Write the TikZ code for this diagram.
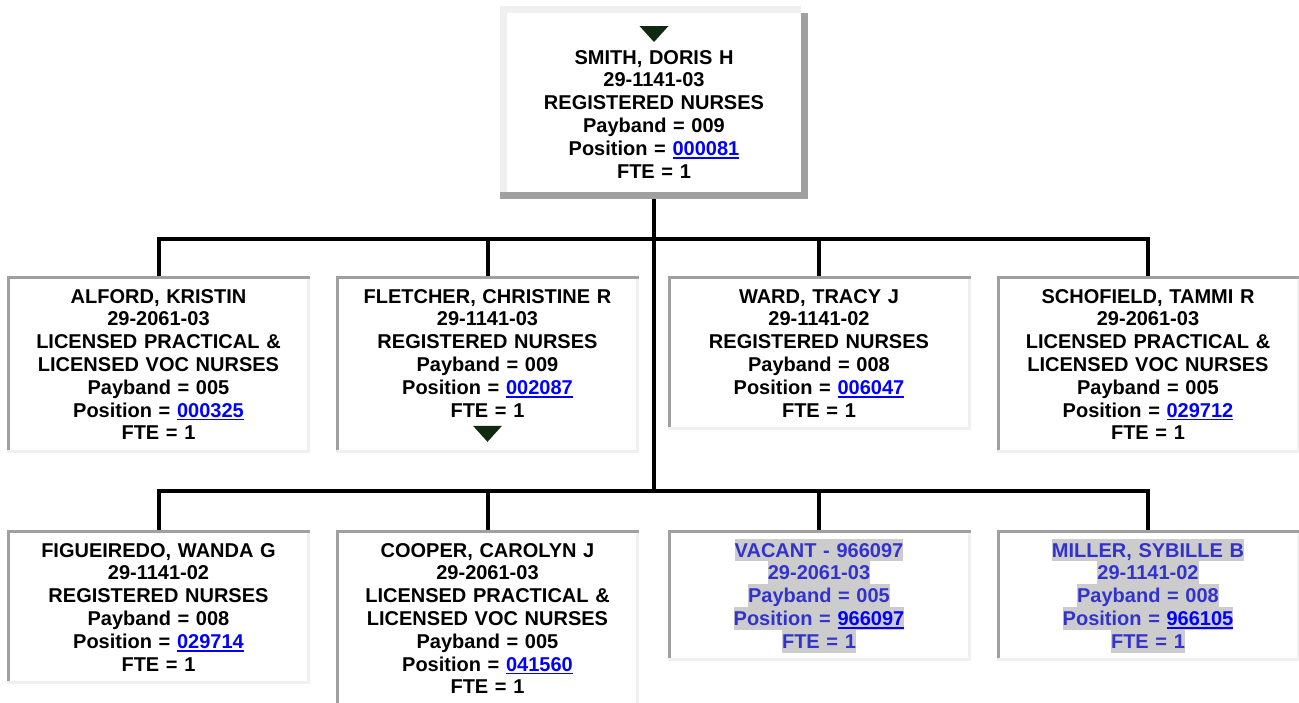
\documentclass[tikz,border=0pt]{standalone}
\usepackage{fontspec}
\setmainfont{Liberation Sans}
\usepackage{xcolor}
\usepackage{tikz}
\usetikzlibrary{calc}

\definecolor{edgedark}{RGB}{160,160,160}
\definecolor{edgelight}{RGB}{240,240,240}
\definecolor{linkblue}{RGB}{0,0,255}
\definecolor{vacblue}{RGB}{51,51,204}
\definecolor{hlgray}{RGB}{204,204,204}
\definecolor{tridark}{RGB}{16,42,16}

\newcommand\orgstrut{\rule[-4.3pt]{0pt}{22.8pt}}
\newcommand\poslink[1]{\textcolor{linkblue}{\setbox0\hbox{#1}\rlap{\rule[-3.4pt]{\wd0}{1.8pt}}\box0}}
\newcommand\vachl[1]{{\setlength\fboxsep{0pt}\colorbox{hlgray}{\orgstrut\textcolor{vacblue}{#1}}}}

\tikzset{
  orgbox/.style={anchor=north,fill=white,outer sep=0pt,inner xsep=9pt,inner ysep=8.5pt,
    text width=285pt,minimum width=303pt,align=center},
  topbox/.style={orgbox,minimum width=308pt,inner xsep=11.5pt,minimum height=193pt},
  conn/.style={line width=4pt,black},
  tri/.style={fill=tridark}
}

\begin{document}
\begin{tikzpicture}[font=\bfseries\fontsize{20}{22.8}\selectfont,x=1pt,y=1pt]
\useasboundingbox (0,0) rectangle (1299,-702);
\clip (0,0) rectangle (1299,-702);
\node[topbox] (smith) at (654,-6) {\orgstrut\\SMITH, DORIS H\\29-1141-03\\REGISTERED NURSES\\Payband = 009\\Position = \poslink{000081}\\FTE = 1\orgstrut};
\node[orgbox] (alford) at (158.5,-276) {\orgstrut ALFORD, KRISTIN\\29-2061-03\\LICENSED PRACTICAL \&\\LICENSED VOC NURSES\\Payband = 005\\Position = \poslink{000325}\\FTE = 1\orgstrut};
\node[orgbox] (fletcher) at (487.5,-276) {\orgstrut FLETCHER, CHRISTINE R\\29-1141-03\\REGISTERED NURSES\\Payband = 009\\Position = \poslink{002087}\\FTE = 1\\\orgstrut};
\node[orgbox] (ward) at (819,-276) {\orgstrut WARD, TRACY J\\29-1141-02\\REGISTERED NURSES\\Payband = 008\\Position = \poslink{006047}\\FTE = 1\orgstrut};
\node[orgbox] (schofield) at (1148,-276) {\orgstrut SCHOFIELD, TAMMI R\\29-2061-03\\LICENSED PRACTICAL \&\\LICENSED VOC NURSES\\Payband = 005\\Position = \poslink{029712}\\FTE = 1\orgstrut};
\node[orgbox] (figueiredo) at (158.5,-530) {\orgstrut FIGUEIREDO, WANDA G\\29-1141-02\\REGISTERED NURSES\\Payband = 008\\Position = \poslink{029714}\\FTE = 1\orgstrut};
\node[orgbox] (cooper) at (487.5,-530) {\orgstrut COOPER, CAROLYN J\\29-2061-03\\LICENSED PRACTICAL \&\\LICENSED VOC NURSES\\Payband = 005\\Position = \poslink{041560}\\FTE = 1\orgstrut};
\node[orgbox] (vacant) at (819,-530) {\vachl{VACANT - 966097}\\\vachl{29-2061-03}\\\vachl{Payband = 005}\\\vachl{Position = \poslink{966097}}\\\vachl{FTE = 1}};
\node[orgbox] (miller) at (1148,-530) {\vachl{MILLER, SYBILLE B}\\\vachl{29-1141-02}\\\vachl{Payband = 008}\\\vachl{Position = \poslink{966105}}\\\vachl{FTE = 1}};
\fill[edgelight] (smith.north west) rectangle ([xshift=-7pt,yshift=-7pt]smith.north east);
\fill[edgelight] (smith.north west) rectangle ([xshift=7pt]smith.south west);
\fill[edgedark] (smith.south west) rectangle ([yshift=7pt]smith.south east);
\fill[edgedark] ([yshift=-7pt]smith.north east) rectangle ([xshift=-7pt]smith.south east);
\foreach \n in {alford,fletcher,ward,schofield,figueiredo,cooper,vacant,miller}{
  \fill[edgedark] (\n.north west) rectangle ([yshift=-3pt]\n.north east);
  \fill[edgelight] (\n.south west) rectangle ([yshift=3pt]\n.south east);
  \fill[edgedark] ([yshift=-3pt]\n.north west) rectangle ([xshift=3pt,yshift=3pt]\n.south west);
  \fill[edgelight] ([yshift=-3pt]\n.north east) rectangle ([xshift=-3pt,yshift=3pt]\n.south east);
}
\fill[tri] ([yshift=-36pt]smith.north) -- ++(-14.5,16) -- ++(29,0) -- cycle;
\fill[tri] ([yshift=10.8pt]fletcher.south) -- ++(-14.5,16) -- ++(29,0) -- cycle;
\coordinate (bus1) at (654,-238.5);
\coordinate (bus2) at (654,-491);
\draw[conn] (smith.south) -- (bus2);
\draw[conn] (alford.north) |- (schofield.north |- bus1) -- (schofield.north);
\foreach \n in {fletcher,ward} \draw[conn] (\n.north) -- (\n.north |- bus1);
\draw[conn] (figueiredo.north) |- (miller.north |- bus2) -- (miller.north);
\foreach \n in {cooper,vacant} \draw[conn] (\n.north) -- (\n.north |- bus2);
\end{tikzpicture}
\end{document}
